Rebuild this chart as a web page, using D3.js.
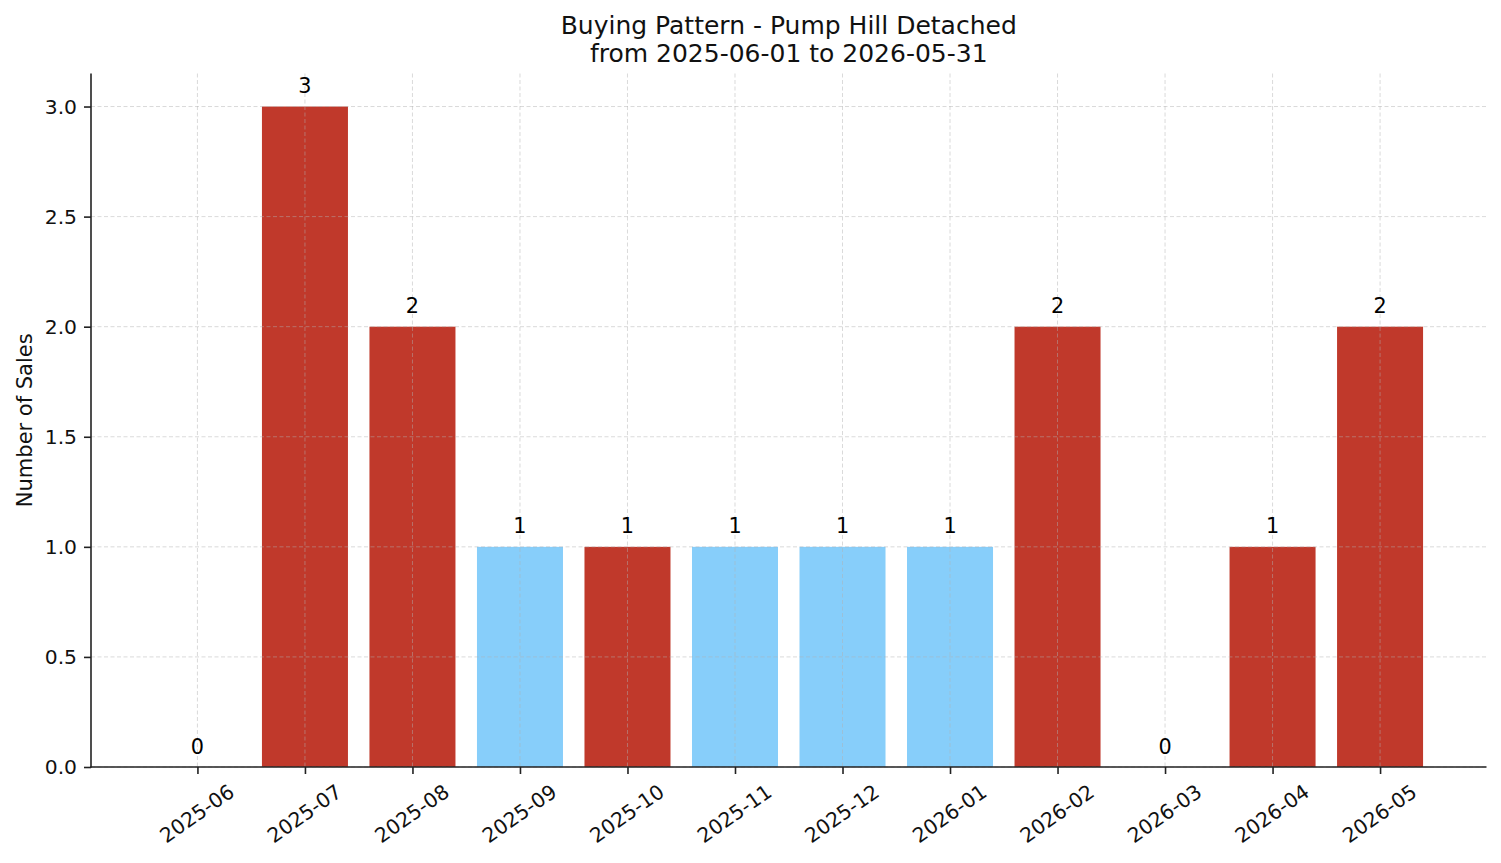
<!DOCTYPE html>
<html>
<head>
<meta charset="utf-8">
<script src="https://cdn.jsdelivr.net/npm/d3@7"></script>
<style>
  html, body { margin: 0; padding: 0; background: #fff; }
  svg { display: block; font-family: "DejaVu Sans", sans-serif; }
</style>
</head>
<body>
<svg id="chart" width="1501" height="863"></svg>
<script>
const months = ["2025-06","2025-07","2025-08","2025-09","2025-10","2025-11","2025-12","2026-01","2026-02","2026-03","2026-04","2026-05"];
const sales = [0, 3, 2, 1, 1, 1, 1, 1, 2, 0, 1, 2];
const barColors = ["#c0392b","#c0392b","#c0392b","#87cefa","#c0392b","#87cefa","#87cefa","#87cefa","#c0392b","#c0392b","#c0392b","#c0392b"];
const yTicks = [0, 0.5, 1.0, 1.5, 2.0, 2.5, 3.0];
const titleLines = ["Buying Pattern - Pump Hill Detached", "from 2025-06-01 to 2026-05-31"];
const yLabel = "Number of Sales";

(function () {
const svg = d3.select("#chart");
const pLeft = 91, pRight = 1486.5, pTop = 73.5, pBottom = 767;

const x = d3.scaleLinear().domain([-0.99, months.length - 1 + 0.99]).range([pLeft, pRight]);
const y = d3.scaleLinear().domain([0, 3.15]).range([pBottom, pTop]);
const barW = x(0.8) - x(0);

// bars
svg.append("g").selectAll("rect").data(months).join("rect")
  .attr("x", (d, i) => x(i - 0.4))
  .attr("width", barW)
  .attr("y", (d, i) => y(sales[i]))
  .attr("height", (d, i) => y(0) - y(sales[i]))
  .attr("fill", (d, i) => barColors[i]);

// grid (drawn over bars)
const grid = svg.append("g").attr("stroke", "#b0b0b0").attr("stroke-opacity", 0.6)
  .attr("stroke-width", 0.8).attr("stroke-dasharray", "4,2.5");
grid.selectAll("line.h").data(yTicks).join("line").attr("class", "h")
  .attr("x1", pLeft).attr("x2", pRight)
  .attr("y1", d => y(d)).attr("y2", d => y(d));
grid.selectAll("line.v").data(months).join("line").attr("class", "v")
  .attr("x1", (d, i) => x(i)).attr("x2", (d, i) => x(i))
  .attr("y1", pTop).attr("y2", pBottom);

// value labels
svg.append("g").selectAll("text").data(months).join("text")
  .attr("x", (d, i) => x(i))
  .attr("y", (d, i) => y(sales[i]) - 13.5)
  .attr("text-anchor", "middle")
  .attr("font-size", "20.8px")
  .attr("fill", "#000")
  .text((d, i) => sales[i]);

// y axis
const yAxis = d3.axisLeft(y).tickValues(yTicks).tickFormat(d3.format(".1f")).tickSize(7).tickPadding(7);
const gy = svg.append("g").attr("transform", `translate(${pLeft},0)`).call(yAxis);
gy.select(".domain").remove();
gy.selectAll(".tick line").attr("stroke", "#222").attr("stroke-width", 1.6);
gy.selectAll(".tick text").attr("font-size", "20.3px").attr("fill", "#111")
  .attr("font-family", "DejaVu Sans, sans-serif");

// x axis
const xAxis = d3.axisBottom(x).tickValues(d3.range(months.length)).tickFormat(i => months[i]).tickSize(7);
const gx = svg.append("g").attr("transform", `translate(0,${pBottom})`).call(xAxis);
gx.select(".domain").remove();
gx.selectAll(".tick line").attr("stroke", "#222").attr("stroke-width", 1.6);
gx.selectAll(".tick text")
  .attr("font-size", "20.3px").attr("fill", "#111")
  .attr("font-family", "DejaVu Sans, sans-serif")
  .attr("text-anchor", "middle")
  .attr("dy", "0.35em")
  .attr("y", 0)
  .attr("transform", "translate(-1,46.5) rotate(-35)");

// spines
svg.append("line").attr("x1", pLeft).attr("x2", pLeft).attr("y1", pTop).attr("y2", pBottom + 0.8)
  .attr("stroke", "#222").attr("stroke-width", 1.6);
svg.append("line").attr("x1", pLeft - 0.8).attr("x2", pRight).attr("y1", pBottom).attr("y2", pBottom)
  .attr("stroke", "#222").attr("stroke-width", 1.6);

// y label
svg.append("text")
  .attr("transform", `translate(31.5,${(pTop + pBottom) / 2}) rotate(-90)`)
  .attr("text-anchor", "middle")
  .attr("font-size", "21px")
  .attr("fill", "#111")
  .text(yLabel);

// title
svg.append("g").selectAll("text").data(titleLines).join("text")
  .attr("x", (pLeft + pRight) / 2)
  .attr("y", (d, i) => 33.5 + i * 28.5)
  .attr("text-anchor", "middle")
  .attr("font-size", "25px")
  .attr("fill", "#111")
  .text(d => d);
})();
</script>
</body>
</html>
